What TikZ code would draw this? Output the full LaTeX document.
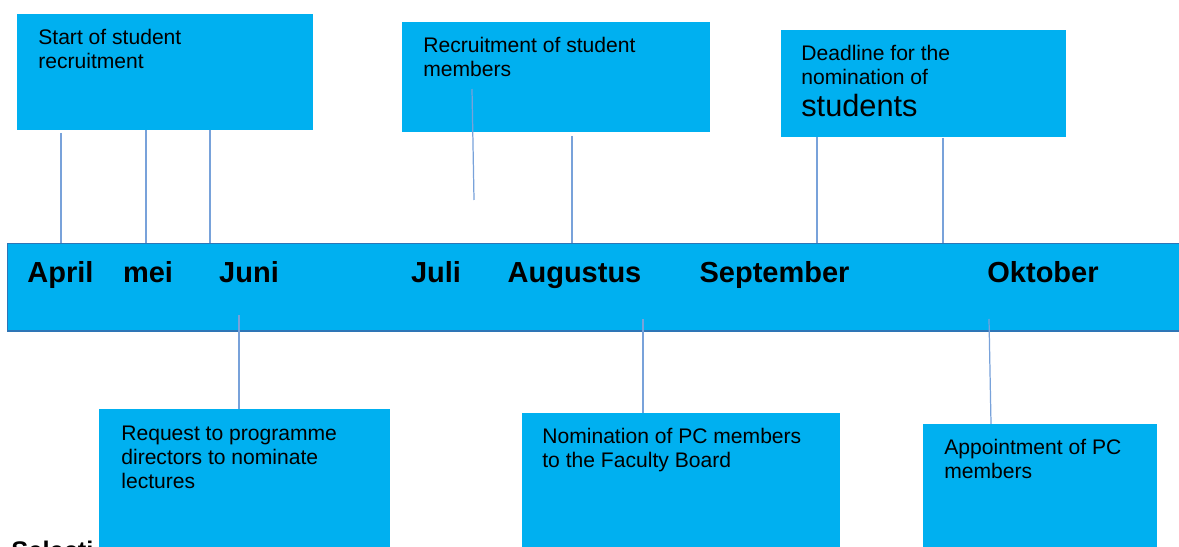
\documentclass[tikz,border=0pt]{standalone}
\usepackage{fontspec}
\setmainfont{Liberation Sans}
\usetikzlibrary{positioning}
\definecolor{boxblue}{RGB}{0,176,240}
\definecolor{barline}{RGB}{46,117,182}
\definecolor{tickblue}{RGB}{120,162,218}

\begin{document}
\begin{tikzpicture}[x=0.02cm,y=-0.02cm,
  box/.style={fill=boxblue,draw=none,inner sep=0pt,anchor=north west},
  txt/.style={inner sep=0pt,anchor=base west,align=left,font=\fontsize{12}{13.66}\selectfont},
  month/.style={inner sep=0pt,anchor=base,font=\fontsize{16.5}{18}\selectfont\bfseries},
  tick/.style={draw=tickblue,line width=0.7pt}]
  \useasboundingbox (0,0) rectangle (1179,547);
  \clip (0,0) rectangle (1179,547);

  % boxes above the bar
  \node[box,minimum width=5.92cm,minimum height=2.32cm] (startbox) at (17,14) {};
  \node[box,minimum width=6.16cm,minimum height=2.2cm] (recbox) at (402,22) {};
  \node[box,minimum width=5.7cm,minimum height=2.13cm] (deadbox) at (781,30) {};

  % the bar
  \node[box,draw=barline,line width=0.8pt,minimum width=23.8cm,minimum height=1.75cm] (timeline) at (7,243) {};

  % text cut off at the bottom
  \node[inner sep=0pt,anchor=base west,font=\fontsize{14.5}{16}\selectfont\bfseries] (selection) at (11,559) {Selecti};

  % boxes below the bar
  \node[box,minimum width=5.81cm,minimum height=3cm] (reqbox) at (99,409) {};
  \node[box,minimum width=6.35cm,minimum height=3cm] (nombox) at (522,413) {};
  \node[box,minimum width=4.67cm,minimum height=3cm] (appbox) at (923,424) {};

  % texts (placed by the baseline of their last line)
  \node[txt] (starttxt) at (38,69) {Start of student\\recruitment};
  \node[txt] (rectxt) at (423,76.5) {Recruitment of student\\members};
  \node[txt] (deadtxt) at (801,116.5) {Deadline for the\\nomination of\\[4.5pt]{\fontsize{17.5}{20}\selectfont students}};
  \node[txt] (reqtxt) at (121,488) {Request to programme\\directors to nominate\\lectures};
  \node[txt] (nomtxt) at (542,467) {Nomination of PC members\\to the Faculty Board};
  \node[txt] (apptxt) at (944,478) {Appointment of PC\\members};

  % months
  \node[month] (apr) at (60.5,282) {April};
  \node[month] (mei) at (148,282) {mei};
  \node[month] (jun) at (249,282) {Juni};
  \node[month] (jul) at (436,282) {Juli};
  \node[month] (aug) at (574.5,282) {Augustus};
  \node[month] (sep) at (774.5,282) {September};
  \node[month] (okt) at (1043,282) {Oktober};

  % connector ends
  \coordinate (apra) at (61,133);   \coordinate (aprb) at (61,243);
  \coordinate (meia) at (146,130);  \coordinate (meib) at (146,243);
  \coordinate (juna) at (210,130);  \coordinate (junb) at (210,243);
  \coordinate (reca) at (472,89);   \coordinate (recb) at (474,200);
  \coordinate (auga) at (572,136);  \coordinate (augb) at (572,243);
  \coordinate (sepa) at (817,137);  \coordinate (sepb) at (817,243);
  \coordinate (seqa) at (943,138);  \coordinate (seqb) at (943,243);
  \coordinate (juni) at (239,315);  \coordinate (junj) at (239,409);
  \coordinate (augi) at (643,319);  \coordinate (augj) at (643,413);
  \coordinate (okti) at (989,319);  \coordinate (oktj) at (991,424);

  \draw[tick] (apra) -- (aprb);
  \draw[tick] (meia) -- (meib);
  \draw[tick] (juna) -- (junb);
  \draw[tick] (reca) -- (recb);
  \draw[tick] (auga) -- (augb);
  \draw[tick] (sepa) -- (sepb);
  \draw[tick] (seqa) -- (seqb);
  \draw[tick] (juni) -- (junj);
  \draw[tick] (augi) -- (augj);
  \draw[tick] (okti) -- (oktj);
\end{tikzpicture}
\end{document}
